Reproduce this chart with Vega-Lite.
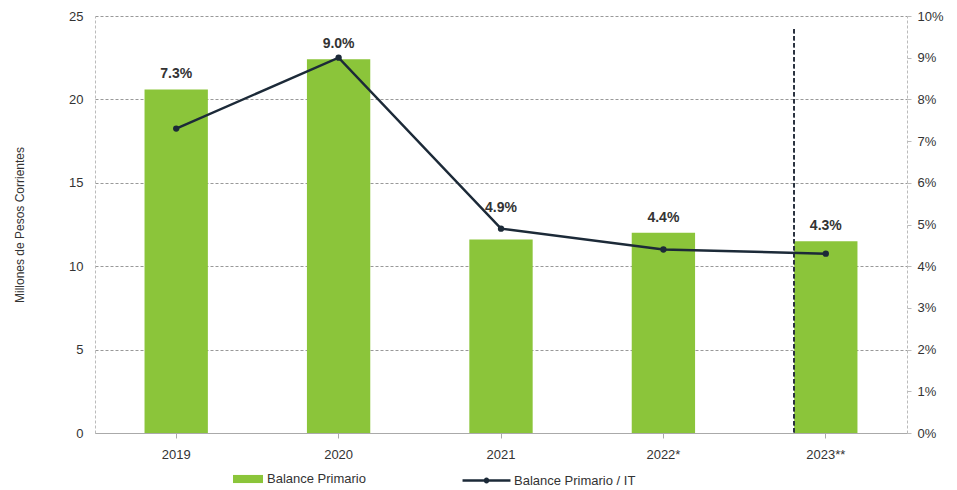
{
  "$schema": "https://vega.github.io/schema/vega-lite/v6.json",
  "width": 812,
  "height": 417,
  "autosize": {"type": "none"},
  "padding": {"left": 95, "top": 16, "right": 50, "bottom": 57},
  "background": "white",
  "config": {
    "font": "Liberation Sans Narrow, Liberation Sans, Arial",
    "view": {"stroke": null},
    "axis": {"labelFont": "Liberation Sans Narrow, Liberation Sans", "labelFontSize": 13, "labelColor": "#333", "titleFont": "Liberation Sans Narrow, Liberation Sans", "titleColor": "#333"},
    "legend": {"labelFont": "Liberation Sans Narrow, Liberation Sans", "labelFontSize": 13, "labelColor": "#333"}
  },
  "data": {
    "values": [
      {"year": "2019", "balance": 20.6, "pct": 0.073},
      {"year": "2020", "balance": 22.4, "pct": 0.090},
      {"year": "2021", "balance": 11.6, "pct": 0.049},
      {"year": "2022*", "balance": 12.0, "pct": 0.044},
      {"year": "2023**", "balance": 11.5, "pct": 0.043}
    ]
  },
  "encoding": {
    "x": {
      "field": "year", "type": "nominal", "sort": null,
      "scale": {"paddingInner": 0.61, "paddingOuter": 0.305},
      "axis": {"title": null, "labelAngle": 0, "labelPadding": 10, "ticks": true, "tickColor": "#aaa", "domainColor": "#aaa", "labelFontSize": 13}
    }
  },
  "layer": [
    {
      "layer": [
        {
          "mark": {"type": "bar", "color": "#8bc53a"},
          "encoding": {
            "y": {
              "field": "balance", "type": "quantitative",
              "scale": {"domain": [0, 25], "nice": false, "zero": true},
              "axis": {
                "title": "Millones de Pesos Corrientes", "titleFontSize": 12, "titleFontWeight": "normal", "titlePadding": 42,
                "values": [0, 5, 10, 15, 20, 25], "labelPadding": 12, "ticks": false,
                "domainColor": "#bbb", "domainDash": [3, 2],
                "grid": true, "gridColor": "#999", "gridDash": [3, 2], "gridWidth": 1
              }
            },
            "fill": {"datum": "Balance Primario", "type": "nominal", "scale": {"range": ["#8bc53a"]},
              "legend": {"title": null, "orient": "none", "legendX": 138, "legendY": 448, "symbolType": "M-1,-0.27H1V0.27H-1Z", "symbolSize": 900, "symbolStrokeWidth": 0, "labelFontSize": 13}
            }
          }
        },
        {
          "mark": {"type": "rule", "color": "#2b3340", "strokeDash": [4, 3], "strokeWidth": 1.5},
          "encoding": {
            "x": {"datum": "2023**", "type": "nominal", "bandPosition": 0},
            "y": {"datum": 24.2, "type": "quantitative"},
            "y2": {"datum": 0}
          }
        },
        {
          "transform": [{"filter": "datum.year !== '2021'"}],
          "mark": {"type": "text", "dy": -15, "fontWeight": "bold", "fontSize": 14, "color": "#333", "font": "Liberation Sans Narrow, Liberation Sans"},
          "encoding": {
            "y": {"field": "balance", "type": "quantitative"},
            "text": {"field": "pct", "type": "quantitative", "format": ".1%"}
          }
        },
        {
          "transform": [{"filter": "datum.year === '2021'"}],
          "mark": {"type": "text", "dy": -32, "fontWeight": "bold", "fontSize": 14, "color": "#333", "font": "Liberation Sans Narrow, Liberation Sans"},
          "encoding": {
            "y": {"field": "balance", "type": "quantitative"},
            "text": {"field": "pct", "type": "quantitative", "format": ".1%"}
          }
        }
      ]
    },
    {
      "layer": [
        {
          "mark": {"type": "line", "strokeWidth": 2.5, "color": "#1c2a38"},
          "encoding": {
            "y": {
              "field": "pct", "type": "quantitative",
              "scale": {"domain": [0, 0.1], "nice": false},
              "axis": {
                "title": null, "orient": "right", "format": ".0%", "values": [0, 0.01, 0.02, 0.03, 0.04, 0.05, 0.06, 0.07, 0.08, 0.09, 0.1],
                "grid": false, "domainColor": "#bbb", "domainDash": [3, 2], "tickColor": "#bbb", "tickSize": 4, "labelPadding": 6
              }
            },
            "stroke": {"datum": "Balance Primario / IT", "type": "nominal", "scale": {"range": ["#1c2a38"]},
              "legend": {"title": null, "orient": "none", "legendX": 366, "legendY": 439, "symbolType": "M-1,0H1M-0.07,0A0.07,0.07 0 1,0 0.07,0A0.07,0.07 0 1,0 -0.07,0", "symbolSize": 2300, "symbolStrokeWidth": 2.5, "labelFontSize": 13, "labelOffset": 2}
            }
          }
        },
        {
          "mark": {"type": "point", "filled": true, "size": 40, "color": "#1c2a38", "opacity": 1},
          "encoding": {
            "y": {"field": "pct", "type": "quantitative"}
          }
        }
      ]
    }
  ],
  "resolve": {"scale": {"y": "independent"}}
}
